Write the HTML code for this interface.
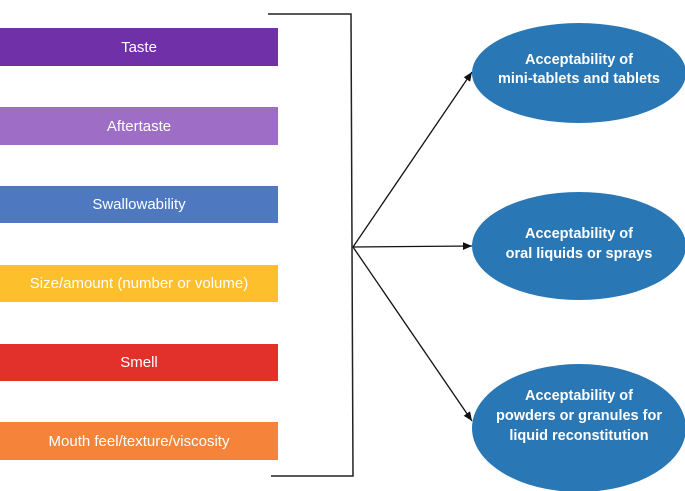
<!DOCTYPE html>
<html><head><style>
body{margin:0;width:685px;height:491px;background:#fff;overflow:hidden;position:relative;font-family:"Liberation Sans",sans-serif}
.b{position:absolute;left:0;width:278px;color:#fff;font-size:15px;display:flex;align-items:center;justify-content:center}
</style></head><body>
<div class="b" style="top:28px;height:38px;background:#7030a8">Taste</div>
<div class="b" style="top:107px;height:38px;background:#9e6ec6">Aftertaste</div>
<div class="b" style="top:186px;height:37px;background:#4e78c0">Swallowability</div>
<div class="b" style="top:265px;height:37px;background:#fdbf2b">Size/amount (number or volume)</div>
<div class="b" style="top:344px;height:37px;background:#e2312b">Smell</div>
<div class="b" style="top:422px;height:38px;background:#f5843a">Mouth feel/texture/viscosity</div>
<svg width="685" height="491" style="position:absolute;left:0;top:0">
<defs><marker id="a" markerWidth="8" markerHeight="8" refX="7" refY="4" orient="auto"><path d="M0,1L7,4L0,7z" fill="#111"/></marker></defs>
<polyline points="268,14 351,14 353,476 271,476" fill="none" stroke="#222" stroke-width="1.5"/>
<g stroke="#111" stroke-width="1.3" marker-end="url(#a)">
<line x1="353" y1="247" x2="472" y2="72"/>
<line x1="353" y1="247" x2="472" y2="246"/>
<line x1="353" y1="247" x2="472" y2="421"/>
</g>
<g fill="#2a77b5">
<ellipse cx="579" cy="73" rx="107" ry="50"/>
<ellipse cx="579" cy="246" rx="107" ry="54"/>
<ellipse cx="579" cy="428" rx="107" ry="64"/>
</g>
<g fill="#fff" font-weight="bold" font-size="14.5" text-anchor="middle" font-family="Liberation Sans,sans-serif">
<text x="579" y="64">Acceptability of</text><text x="579" y="83">mini-tablets and tablets</text>
<text x="579" y="238">Acceptability of</text><text x="579" y="258">oral liquids or sprays</text>
<text x="579" y="400">Acceptability of</text><text x="579" y="420">powders or granules for</text><text x="579" y="440">liquid reconstitution</text>
</g>
</svg>
</body></html>
